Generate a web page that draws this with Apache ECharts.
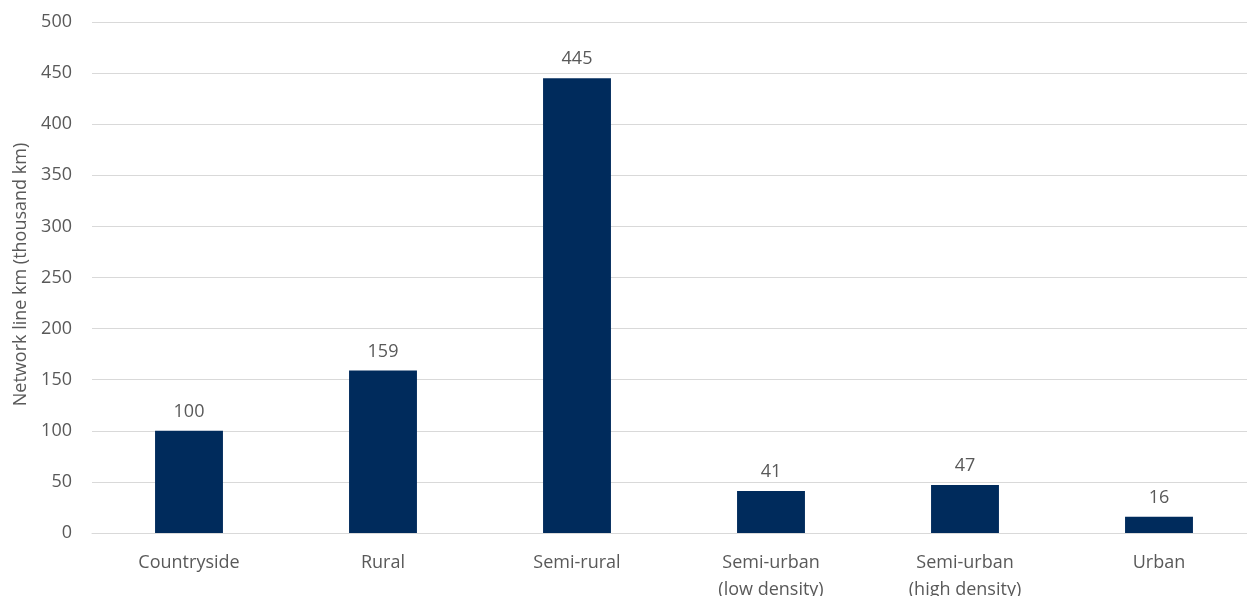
<!DOCTYPE html>
<html>
<head>
<meta charset="utf-8">
<script src="https://cdn.jsdelivr.net/npm/echarts@6/dist/echarts.min.js"></script>
<style>
  html, body { margin: 0; padding: 0; background: #ffffff; }
  #chart { width: 1247px; height: 596px; }
</style>
</head>
<body>
<div id="chart"></div>
<script>
// Network line length by area type
const categories = ['Countryside', 'Rural', 'Semi-rural', 'Semi-urban\n(low density)', 'Semi-urban\n(high density)', 'Urban'];
const lineKm = [100, 159, 445, 41, 47, 16];
const yTicks = { min: 0, max: 500, interval: 50 };
const yAxisTitle = 'Network line km (thousand km)';

const textColor = '#595959';
const fontFamily = '"Open Sans", "Noto Sans", sans-serif';

const chart = echarts.init(document.getElementById('chart'), null, { renderer: 'canvas' });
chart.setOption({
  animation: false,
  grid: { left: 92, right: -9, top: 22, bottom: 63, containLabel: false, outerBoundsMode: 'none' },
  xAxis: {
    type: 'category',
    data: categories,
    axisLine: { show: true, lineStyle: { color: '#d9d9d9', width: 1 } },
    axisTick: { show: false },
    axisLabel: {
      color: textColor, fontFamily: fontFamily, fontSize: 18,
      lineHeight: 27, margin: 16, interval: 0
    }
  },
  yAxis: {
    type: 'value',
    min: yTicks.min, max: yTicks.max, interval: yTicks.interval,
    name: yAxisTitle,
    nameLocation: 'middle',
    nameGap: 62,
    nameTextStyle: { color: textColor, fontFamily: fontFamily, fontSize: 18, padding: [0, 0, 0, 6] },
    axisLine: { show: false },
    axisTick: { show: false },
    axisLabel: { color: textColor, fontFamily: fontFamily, fontSize: 18, margin: 20 },
    splitLine: { lineStyle: { color: '#d9d9d9', width: 1 } }
  },
  series: [{
    type: 'bar',
    data: lineKm,
    barWidth: '35%',
    itemStyle: { color: '#002b5c' },
    label: {
      show: true, position: 'top', distance: 10,
      color: textColor, fontFamily: fontFamily, fontSize: 18
    }
  }]
});
</script>
</body>
</html>
